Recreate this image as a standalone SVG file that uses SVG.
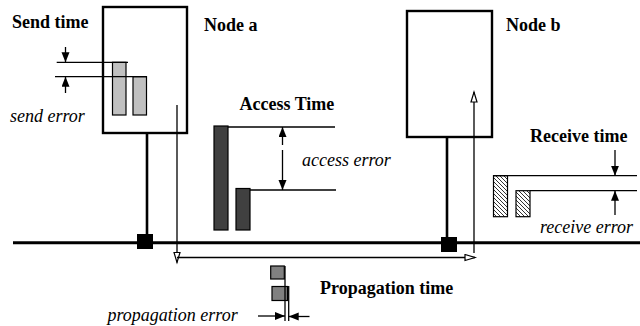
<svg xmlns="http://www.w3.org/2000/svg" width="640" height="326" viewBox="0 0 640 326">
<style>
.bold{font-family:"Liberation Serif","Times New Roman",serif;font-weight:bold;font-size:18px;fill:#000}
.ital{font-family:"Liberation Serif","Times New Roman",serif;font-style:italic;font-size:18px;fill:#000}
.box{fill:#fff;stroke:#000;stroke-width:2.4}
.ln{stroke:#000;stroke-width:1.3;fill:none}
.stem{stroke:#000;stroke-width:2.6}
.sb{fill:#c0c0c0;stroke:#000;stroke-width:1.2}
.ab{fill:#404040;stroke:#000;stroke-width:1.2}
.pb{fill:#808080;stroke:#000;stroke-width:1.2}
.rb{fill:url(#hatch);stroke:#000;stroke-width:1.2}
</style>
<defs>
<marker id="fa" markerUnits="userSpaceOnUse" markerWidth="12" markerHeight="10" refX="10" refY="4" orient="auto">
<path d="M0,0 L10,4 L0,8 Z" fill="#000"/>
</marker>
<marker id="oa" markerUnits="userSpaceOnUse" markerWidth="14" markerHeight="10" refX="11" refY="4" orient="auto">
<path d="M1,1 L11,4 L1,7 Z" fill="#fff" stroke="#000" stroke-width="1.2"/>
</marker>
<pattern id="hatch" patternUnits="userSpaceOnUse" width="4" height="4">
<rect width="4" height="4" fill="#fff"/>
<path d="M-1,-1 L5,5 M-1,3 L1,5 M3,-1 L5,1" stroke="#000" stroke-width="0.8"/>
</pattern>
</defs>

<g id="bus">
<line x1="13" y1="242.7" x2="640" y2="242.7" stroke="#000" stroke-width="3"/>
</g>

<g id="node-a">
<rect class="box" x="103" y="7" width="84" height="126"/>
<line class="stem" x1="147" y1="133" x2="147" y2="236"/>
<rect x="137" y="234" width="16" height="15" fill="#000"/>
<text class="bold" x="204" y="31">Node a</text>
</g>

<g id="node-b">
<rect class="box" x="407" y="11" width="85" height="126"/>
<line class="stem" x1="447" y1="137" x2="447" y2="239"/>
<rect x="441" y="237" width="16" height="15" fill="#000"/>
<text class="bold" x="506" y="31">Node b</text>
</g>

<g id="send-time">
<text class="bold" x="12" y="27.5">Send time</text>
<rect class="sb" x="112.5" y="62.3" width="13.5" height="52.7"/>
<rect class="sb" x="133" y="76.7" width="13.5" height="38.3"/>
<text class="ital" x="10" y="122">send error</text>
</g>

<g id="access-time">
<text class="bold" x="239.5" y="109.5">Access Time</text>
<rect class="ab" x="214" y="126" width="14" height="104"/>
<rect class="ab" x="236" y="188.5" width="14" height="41.5"/>
<text class="ital" x="302" y="166">access error</text>
</g>

<g id="receive-time">
<text class="bold" x="530" y="141.7">Receive time</text>
<rect class="rb" x="493.5" y="175.7" width="14" height="41"/>
<rect class="rb" x="516" y="190.7" width="14" height="26"/>
<text class="ital" x="540" y="233">receive error</text>
</g>

<g id="propagation-time">
<text class="bold" x="320" y="293.5">Propagation time</text>
<rect class="pb" x="270.7" y="266" width="13.6" height="13"/>
<rect class="pb" x="272" y="286.5" width="15.5" height="14"/>
<text class="ital" x="107.5" y="321">propagation error</text>
</g>

<g id="connectors">
<!-- send error -->
<line class="ln" x1="56.7" y1="62.3" x2="128" y2="62.3"/>
<line class="ln" x1="55" y1="76.7" x2="147" y2="76.7"/>
<line class="ln" x1="65.5" y1="47" x2="65.5" y2="62.3" marker-end="url(#fa)"/>
<line class="ln" x1="65.5" y1="93" x2="65.5" y2="76.7" marker-end="url(#fa)"/>
<!-- access error -->
<line class="ln" x1="228" y1="127" x2="335" y2="127"/>
<line class="ln" x1="250" y1="190" x2="336" y2="190"/>
<line class="ln" x1="282.5" y1="145" x2="282.5" y2="127" marker-end="url(#fa)"/>
<line class="ln" x1="282.5" y1="150" x2="282.5" y2="190" marker-end="url(#fa)"/>
<!-- receive error -->
<line class="ln" x1="493" y1="175.7" x2="637" y2="175.7"/>
<line class="ln" x1="530" y1="190.7" x2="637" y2="190.7"/>
<line class="ln" x1="615" y1="150" x2="615" y2="175.7" marker-end="url(#fa)"/>
<line class="ln" x1="615" y1="215" x2="615" y2="190.7" marker-end="url(#fa)"/>
<!-- propagation -->
<line class="ln" x1="177" y1="105" x2="177" y2="262.5" marker-end="url(#oa)"/>
<line class="ln" x1="177" y1="257.5" x2="475" y2="257.5" marker-end="url(#oa)"/>
<line class="ln" x1="474" y1="253" x2="474" y2="92" marker-end="url(#oa)"/>
<!-- propagation error -->
<line class="ln" x1="285" y1="266" x2="285" y2="321"/>
<line class="ln" x1="288.7" y1="286" x2="288.7" y2="321"/>
<line class="ln" x1="258" y1="316" x2="285" y2="316" marker-end="url(#fa)"/>
<line class="ln" x1="309.5" y1="316.5" x2="288.7" y2="316.5" marker-end="url(#fa)"/>
</g>
</svg>
